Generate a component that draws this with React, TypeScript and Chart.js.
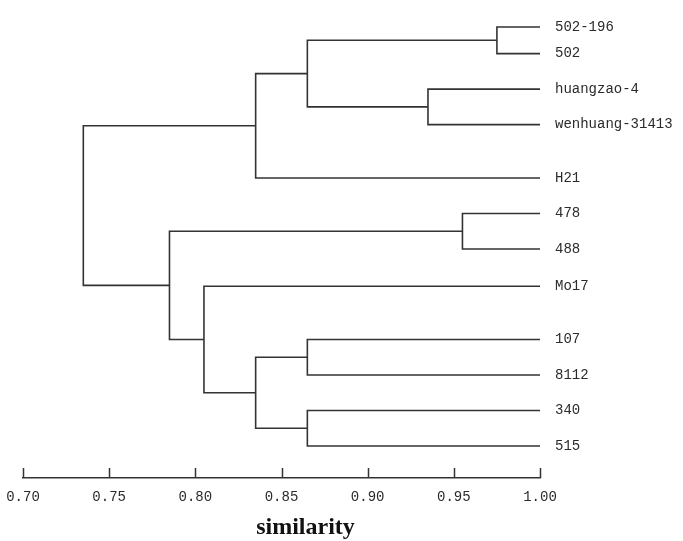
import React, { useEffect, useRef } from "react";
import { Chart, registerables } from "chart.js";

Chart.register(...registerables);

// Leaves (top to bottom) and their vertical row positions
const leafNames = ["502-196", "502", "huangzao-4", "wenhuang-31413", "H21", "478", "488", "Mo17", "107", "8112", "340", "515"];
const leafRows = [0, 0.75, 1.75, 2.75, 4.25, 5.25, 6.25, 7.3, 8.8, 9.8, 10.8, 11.8];

// Merges: node indices (leaves 0..11, merged nodes 12..) and similarity of the join
const mergeLeft = [0, 2, 12, 14, 5, 8, 10, 17, 7, 16, 15];
const mergeRight = [1, 3, 13, 4, 6, 9, 11, 18, 19, 20, 21];
const mergeSimilarity = [0.975, 0.935, 0.865, 0.835, 0.955, 0.865, 0.865, 0.835, 0.805, 0.785, 0.735];

const xTickValues = [0.7, 0.75, 0.8, 0.85, 0.9, 0.95, 1.0];
const axisTitle = "similarity";

const LINE = "#333333";
const TEXT = "#2b2b2b";

function buildDatasets() {
  const n = leafNames.length;
  const nodeX = (i: number): number => (i < n ? 1.0 : mergeSimilarity[i - n]);
  const nodeY = (i: number): number =>
    i < n ? leafRows[i] : (nodeY(mergeLeft[i - n]) + nodeY(mergeRight[i - n])) / 2;
  return mergeSimilarity.map((s, k) => {
    const a = mergeLeft[k];
    const b = mergeRight[k];
    return {
      label: "link" + k,
      data: [
        { x: nodeX(a), y: nodeY(a) },
        { x: s, y: nodeY(a) },
        { x: s, y: nodeY(b) },
        { x: nodeX(b), y: nodeY(b) },
      ],
      showLine: true,
      borderColor: LINE,
      borderWidth: 1.6,
      pointRadius: 0,
      tension: 0,
      fill: false,
    };
  });
}

const decorPlugin = {
  id: "decor",
  afterDraw(chart: any) {
    const { ctx, chartArea } = chart;
    const xs = chart.scales.x;
    ctx.save();
    ctx.strokeStyle = LINE;
    ctx.lineWidth = 1.5;
    for (const v of xTickValues) {
      const px = Math.round(xs.getPixelForValue(v)) + 0.5;
      ctx.beginPath();
      ctx.moveTo(px, chartArea.bottom);
      ctx.lineTo(px, chartArea.bottom - 10);
      ctx.stroke();
    }
    ctx.fillStyle = "#111";
    ctx.font = "bold 24px 'Liberation Serif', 'Times New Roman', serif";
    ctx.textAlign = "center";
    ctx.textBaseline = "alphabetic";
    ctx.fillText(axisTitle, (chartArea.left + chartArea.right) / 2 + 24, 534);
    ctx.restore();
  },
};

export default function App() {
  const ref = useRef<HTMLCanvasElement | null>(null);
  useEffect(() => {
    if (!ref.current) return;
    const chart = new Chart(ref.current, {
      type: "scatter",
      data: { datasets: buildDatasets() as any },
      options: {
        responsive: false,
        animation: false,
        events: [],
        layout: { padding: { left: 23, right: 10, top: 9.25, bottom: 0 } },
        plugins: { legend: { display: false }, tooltip: { enabled: false } },
        scales: {
          x: {
            type: "linear",
            position: "bottom",
            min: 0.7,
            max: 1.0,
            grid: { display: false, drawTicks: true, tickLength: 11 },
            border: { display: true, color: LINE, width: 1.5 },
            afterBuildTicks: (s: any) => {
              s.ticks = xTickValues.map((v) => ({ value: v }));
            },
            afterFit: (s: any) => {
              s.height = 63;
            },
            ticks: {
              autoSkip: false,
              maxRotation: 0,
              padding: 0,
              color: TEXT,
              font: { family: "'Liberation Mono', 'DejaVu Sans Mono', monospace", size: 14 },
              callback: (v: any) => Number(v).toFixed(2),
            },
          },
          y: {
            type: "linear",
            position: "right",
            reverse: true,
            min: -0.5,
            max: 12.7,
            grid: { display: false, drawTicks: true, tickLength: 15 },
            border: { display: false },
            afterBuildTicks: (s: any) => {
              s.ticks = leafRows.map((v) => ({ value: v }));
            },
            afterFit: (s: any) => {
              s.width = 133;
            },
            ticks: {
              autoSkip: false,
              padding: 0,
              color: TEXT,
              font: { family: "'Liberation Mono', 'DejaVu Sans Mono', monospace", size: 14 },
              callback: (_v: any, i: number) => leafNames[i],
            },
          },
        },
      },
      plugins: [decorPlugin],
    });
    return () => chart.destroy();
  }, []);
  return (
    <div style={{ position: "fixed", left: 0, top: 0, width: 683, height: 541, background: "#fff" }}>
      <canvas ref={ref} width={683} height={541} style={{ display: "block" }} />
    </div>
  );
}
